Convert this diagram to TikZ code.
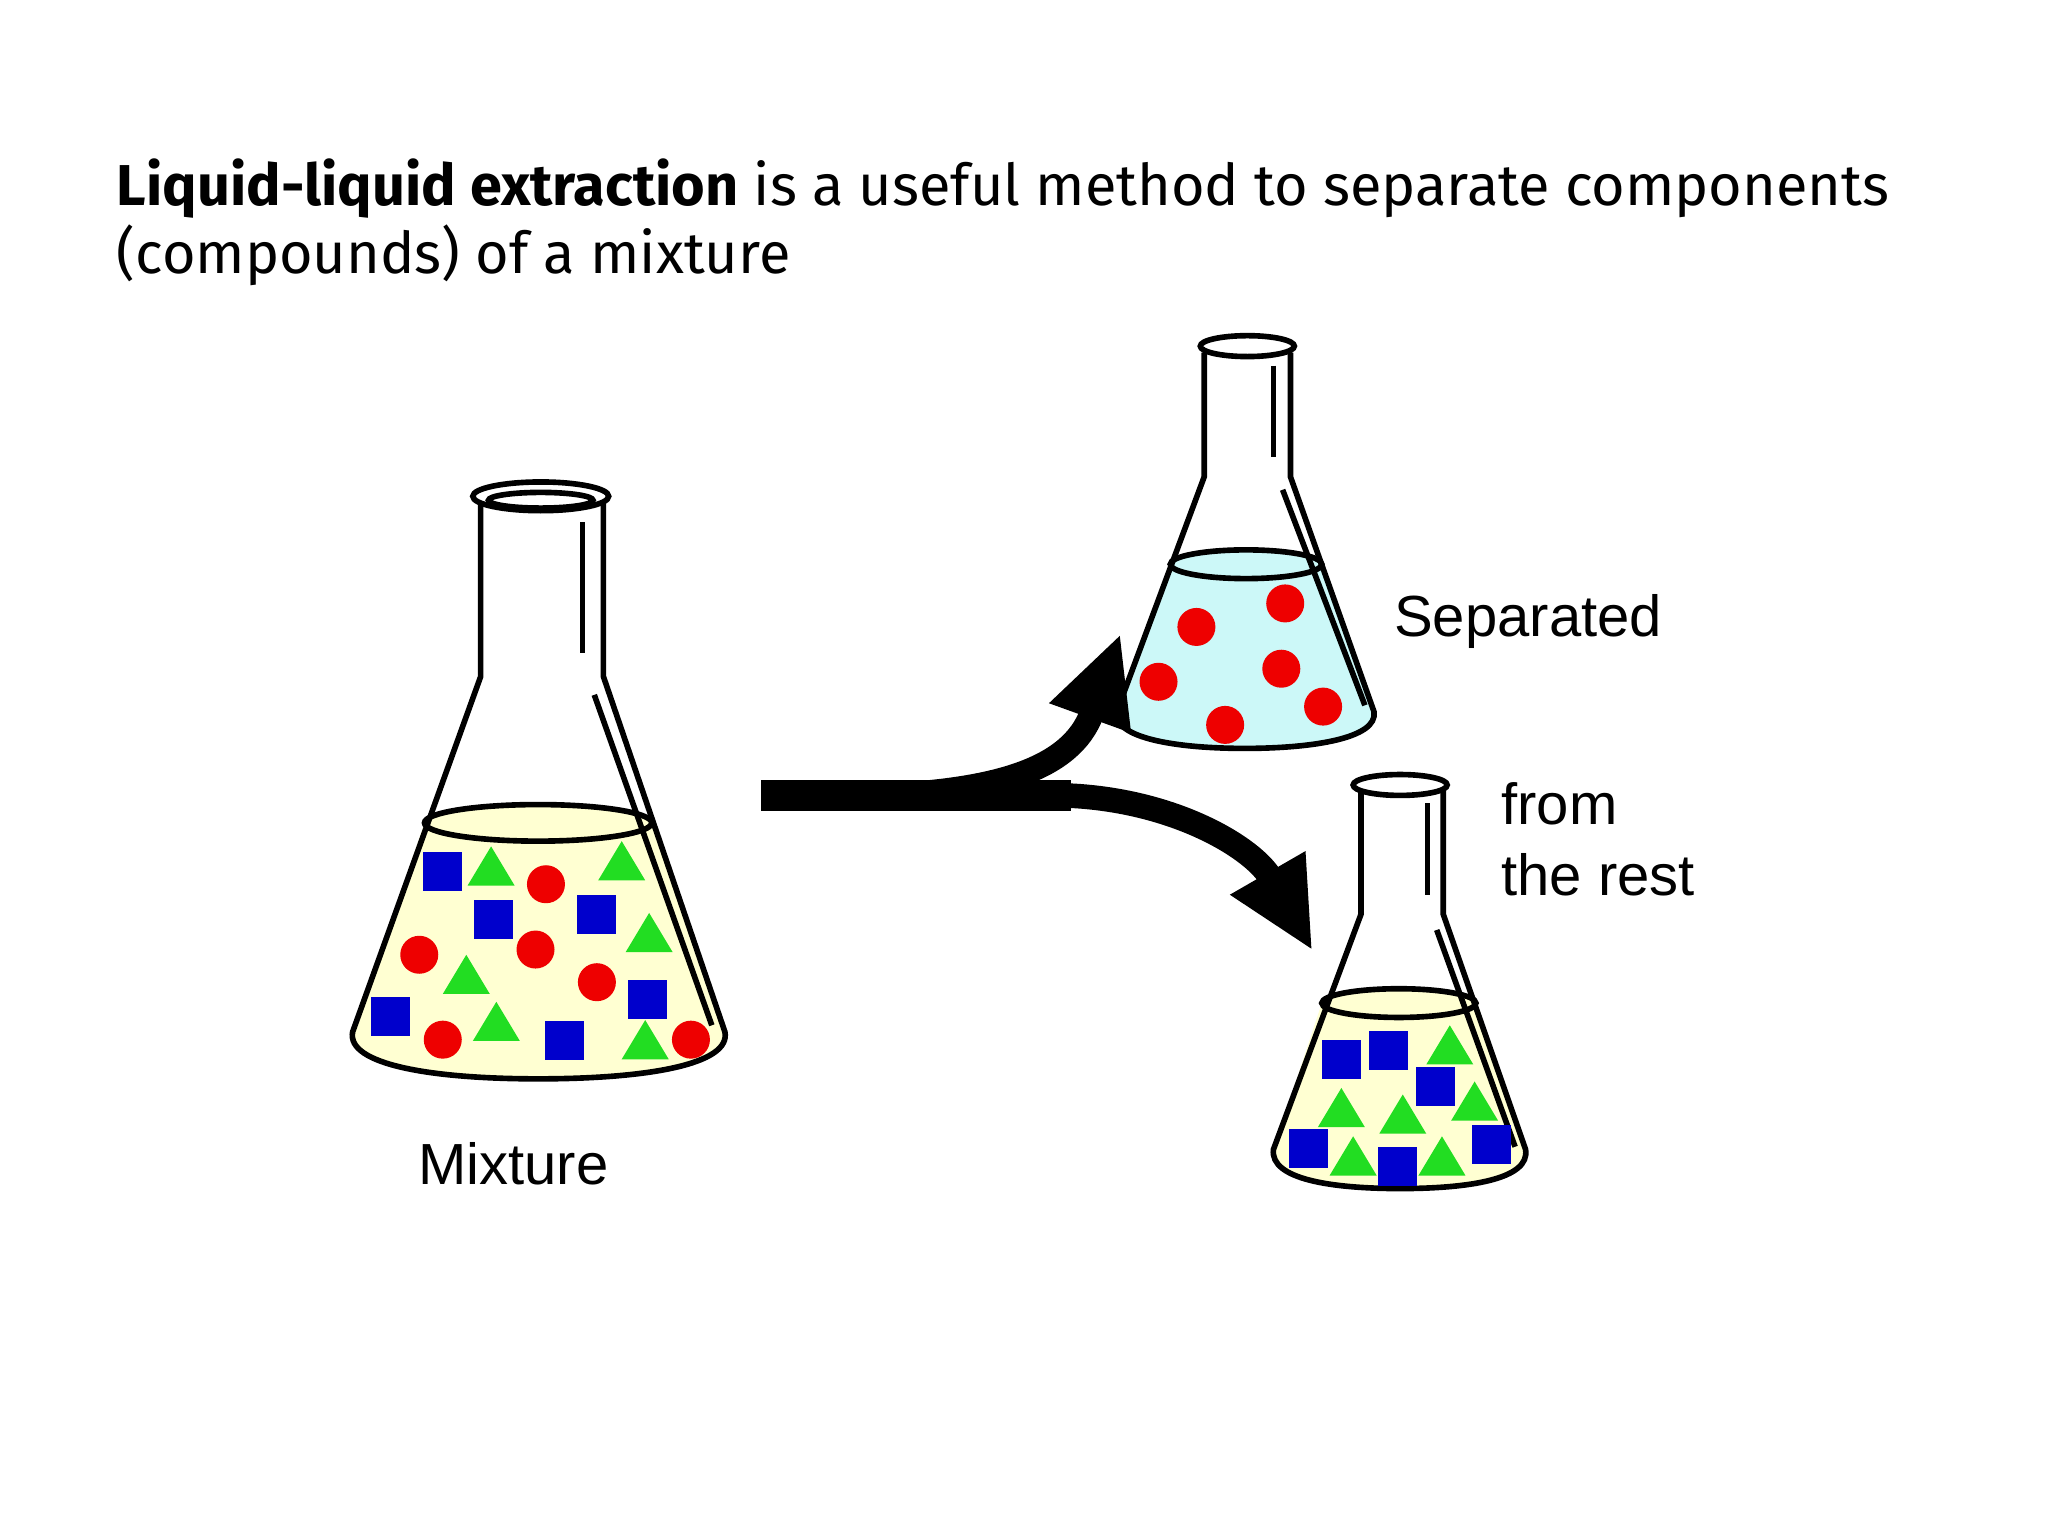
\documentclass[tikz,border=0pt]{standalone}
\usepackage{fontspec}
\setmainfont{Fira Sans}
\newfontfamily\lab{Liberation Sans}
\usetikzlibrary{arrows.meta}
\definecolor{liqy}{HTML}{FFFFD2}
\definecolor{liqc}{HTML}{CCF8F8}
\definecolor{bsq}{HTML}{0000CC}
\definecolor{gtr}{HTML}{22DD22}
\definecolor{rdc}{HTML}{EE0000}
\tikzset{x=0.01306cm,y=-0.01306cm,
 glass/.style={draw=black,line width=1.6pt},
 sq/.style={fill=bsq,minimum size=0.39cm,inner sep=0pt,draw=none},
 cir/.style={circle,fill=rdc,minimum size=0.38cm,inner sep=0pt},
 tri/.style={fill=gtr},
 flow/.style={line width=7pt,-{Triangle[length=0.9cm,width=0.8cm]}},
 lbl/.style={font=\lab\fontsize{16.5}{20}\selectfont,anchor=west}}
\newcommand\tri[2]{\fill[tri] (#1-18,#2+13) -- (#1+18,#2+13) -- (#1,#2-17) -- cycle;}
\begin{document}
\begin{tikzpicture}
\useasboundingbox (0,0) rectangle (1568,1176);
% title
\node[anchor=north west,align=left,font=\fontsize{16.4}{19.5}\selectfont] (title) at (80,112)
 {\textbf{Liquid-liquid extraction} is a useful method to separate components\\(compounds) of a mixture};
% big flask
\fill[liqy] (325,630) -- (270,790) .. controls (265,815) and (330,826) .. (412,826) .. controls (495,826) and (560,815) .. (555,790) -- (500,630) -- cycle;
\draw[glass,fill=liqy] (412,630) ellipse (87 and 14);
\draw[glass] (368,385) -- (368,518) -- (270,790) .. controls (265,815) and (330,826) .. (412,826) .. controls (495,826) and (560,815) .. (555,790) -- (462,518) -- (462,385);
\draw[glass] (446,400) -- (446,500); \draw[glass] (455,532) -- (545,785);
\draw[glass,fill=white] (414,380) ellipse (52 and 11);
\draw[glass] (414,383) ellipse (40 and 6);
\foreach \p in {(339,667),(378,704),(457,700),(496,765),(299,778),(432,797)} \node[sq] at \p {};
\foreach \p in {(418,677),(321,731),(410,727),(457,752),(339,796),(529,796)} \node[cir] at \p {};
\tri{376}{665}\tri{476}{661}\tri{497}{716}\tri{357}{748}\tri{380}{784}\tri{494}{798}
% top flask
\fill[liqc] (897,432) -- (855,545) .. controls (852,565) and (900,573) .. (953,573) .. controls (1006,573) and (1055,565) .. (1052,545) -- (1012,432) -- cycle;
\draw[glass,fill=liqc] (954,432) ellipse (58 and 11);
\draw[glass] (922,270) -- (922,365) -- (855,545) .. controls (852,565) and (900,573) .. (953,573) .. controls (1006,573) and (1055,565) .. (1052,545) -- (988,365) -- (988,270);
\draw[glass] (975,280) -- (975,350); \draw[glass] (982,375) -- (1045,540);
\draw[glass,fill=white] (955,265) ellipse (36 and 8);
\foreach \p in {(916,480),(984,462),(887,522),(981,512),(938,555),(1013,541)} \node[cir] at \p {};
% bottom flask
\fill[liqy] (1012,768) -- (975,880) .. controls (972,903) and (1020,910) .. (1072,910) .. controls (1124,910) and (1172,903) .. (1168,880) -- (1131,768) -- cycle;
\draw[glass,fill=liqy] (1071,768) ellipse (59 and 11);
\draw[glass] (1042,605) -- (1042,700) -- (975,880) .. controls (972,903) and (1020,910) .. (1072,910) .. controls (1124,910) and (1172,903) .. (1168,880) -- (1105,700) -- (1105,605);
\draw[glass] (1093,615) -- (1093,685); \draw[glass] (1100,712) -- (1160,878);
\draw[glass,fill=white] (1072,601) ellipse (36 and 8);
\foreach \p in {(1027,811),(1063,804),(1099,832),(1002,879),(1070,893),(1142,876)} \node[sq] at \p {};
\tri{1110}{802}\tri{1027}{850}\tri{1074}{855}\tri{1129}{845}\tri{1036}{887}\tri{1104}{887}
% arrows
\coordinate (s) at (583,609);
\coordinate (m) at (680,609);
\coordinate (e1) at (858,485);
\coordinate (e2) at (1005,728);
\draw[line width=9pt] (s) -- (820,609);
\draw[flow] (m) .. controls (760,605) and (820,590) .. (e1);
\draw[flow] (815,609) .. controls (900,612) and (960,650) .. (e2);
% labels
\node[lbl] (sep) at (1058,476) {Separated};
\node[lbl,align=left,anchor=north west] (rest) at (1140,590) {from\\the rest};
\node[font=\lab\fontsize{16.5}{20}\selectfont] (mix) at (393,891) {Mixture};
\end{tikzpicture}
\end{document}
